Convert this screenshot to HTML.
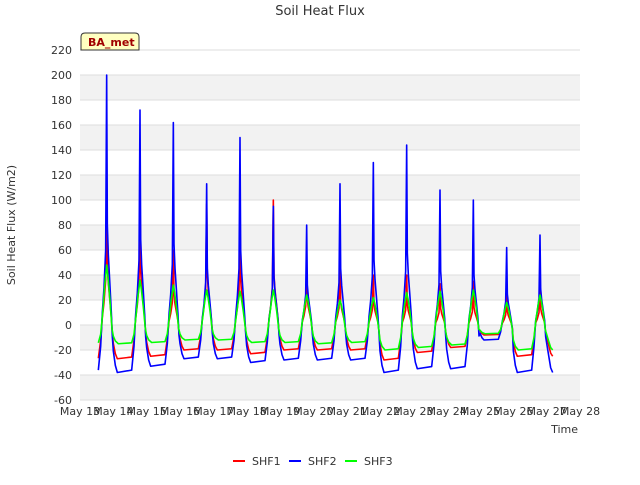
<!DOCTYPE html>
<html><head><meta charset="utf-8"><style>
body{margin:0;background:#fff;font-family:"Liberation Sans","DejaVu Sans",sans-serif}
svg text{font-family:"DejaVu Sans","Liberation Sans",sans-serif}
</style></head><body>
<svg id="c" width="640" height="480" xmlns="http://www.w3.org/2000/svg">
<rect width="640" height="480" fill="#fff"/>
<text x="320" y="15" text-anchor="middle" font-size="13" fill="#333">Soil Heat Flux</text>
<g id="grid"></g>
<g id="series"></g>
<text x="15" y="225" transform="rotate(-90 15 225)" text-anchor="middle" font-size="11" fill="#333">Soil Heat Flux (W/m2)</text>
<text x="578" y="433" text-anchor="end" font-size="11" fill="#333">Time</text>
<g><path d="M81,50 L81,37 Q81,33 85,33 L135,33 Q139,33 139,37 L139,50 Z" fill="#ffffc0" stroke="#333"/><text x="88" y="46" font-size="11" font-weight="bold" fill="#a00000">BA_met</text></g>
<g>
<g><line x1="233" y1="461" x2="245" y2="461" stroke="#f00" stroke-width="2"/><text x="252" y="465" font-size="11" fill="#333">SHF1</text></g>
<g><line x1="289" y1="461" x2="301" y2="461" stroke="#00f" stroke-width="2"/><text x="308" y="465" font-size="11" fill="#333">SHF2</text></g>
<g><line x1="345" y1="461" x2="357" y2="461" stroke="#0f0" stroke-width="2"/><text x="364" y="465" font-size="11" fill="#333">SHF3</text></g>
</g>
</svg>
<script>
const days=[13,14,15,16,17,18,19,20,21,22,23,24,25,26];
const shf1Peak=[120,108,60,97,90,100,50,45,40,40,33,35,27,33];
const shf1Min=[-28,-27,-25,-20,-20,-23,-20,-20,-20,-28,-22,-18,-8,-25];
const shf2Peak=[200,172,162,113,150,95,80,113,130,144,108,100,62,72];
const shf2Min=[-38,-38,-33,-27,-27,-30,-28,-28,-28,-38,-35,-35,-12,-38];
const shf3Peak=[48,36,32,28,27,28,24,20,22,26,27,28,18,24];
const shf3Min=[-15,-15,-14,-12,-12,-14,-14,-15,-14,-20,-18,-16,-7,-20];
const yTicks=[-60,-40,-20,0,20,40,60,80,100,120,140,160,180,200,220];
const xTicks=["May 13","May 14","May 15","May 16","May 17","May 18","May 19","May 20","May 21","May 22","May 23","May 24","May 25","May 26","May 27","May 28"];
const X0=80,X1=580,Y0=400,Y1=50;
const xs=d=>X0+(d-13)*(X1-X0)/15;
const ys=v=>Y0-(v+60)*(Y0-Y1)/280;
const NS="http://www.w3.org/2000/svg";
const g=document.getElementById('grid');
function el(t,a,p){const e=document.createElementNS(NS,t);for(const k in a)e.setAttribute(k,a[k]);p.appendChild(e);return e;}
for(let i=0;i<yTicks.length-1;i++){
 if(i%2==0){const r=el('rect',{x:X0,y:ys(yTicks[i+1]),width:X1-X0,height:ys(yTicks[i])-ys(yTicks[i+1]),fill:'#f2f2f2'},g);
 
 }
}
yTicks.forEach(v=>{const l=el('line',{x1:X0,x2:X1,y1:ys(v),y2:ys(v),stroke:'#ddd'},g);


const t=el('text',{x:X0-8,y:ys(v)+4,'text-anchor':'end','font-size':11,fill:'#333'},g);t.textContent=v;

});
xTicks.forEach((s,i)=>{const t=el('text',{x:xs(13+i),y:415,'text-anchor':'middle','font-size':11,fill:'#333'},g);t.textContent=s;

});
const sharp=[[0,0.55,0],[0.06,0.85,0],[0.12,1,0],[0.55,0.95,0],[0.62,0.45,0],[0.67,0,0.05],[0.72,0,0.15],[0.77,0,0.3],[0.8,0,1],[0.82,0,0.4],[0.85,0,0.28],[0.89,0,0.18],[0.94,0,0.05],[0.97,0.25,0]];
const smooth=[[0,0.6,0],[0.06,0.85,0],[0.15,1,0],[0.55,0.95,0],[0.62,0.5,0],[0.68,0,0.2],[0.74,0,0.65],[0.8,0,1],[0.84,0,0.8],[0.9,0,0.4],[0.96,0.2,0]];
const ser=document.getElementById('series');
function draw(pk,mn,col,shape,name){
 let pts=[];
 days.forEach((d,i)=>{shape.forEach(s=>{const t=d+s[0];if(t<13.25)return;pts.push([xs(t),ys(s[1]*mn[i]+s[2]*pk[i])]);});});
 const last=days.length-1;
 [[0.05,0.6],[0.12,0.9],[0.18,1]].forEach(s=>pts.push([xs(27+s[0]),ys(s[1]*mn[last])]));
 const p=el('polyline',{points:pts.map(p=>p.join(',')).join(' '),fill:'none',stroke:col,'stroke-width':1.6,'stroke-linejoin':'round'},ser);
 
 
}
draw(shf1Peak,shf1Min,'#f00',sharp,'shf1-line');
draw(shf2Peak,shf2Min,'#00f',sharp,'shf2-line');
draw(shf3Peak,shf3Min,'#0f0',smooth,'shf3-line');
</script>
</body></html>
